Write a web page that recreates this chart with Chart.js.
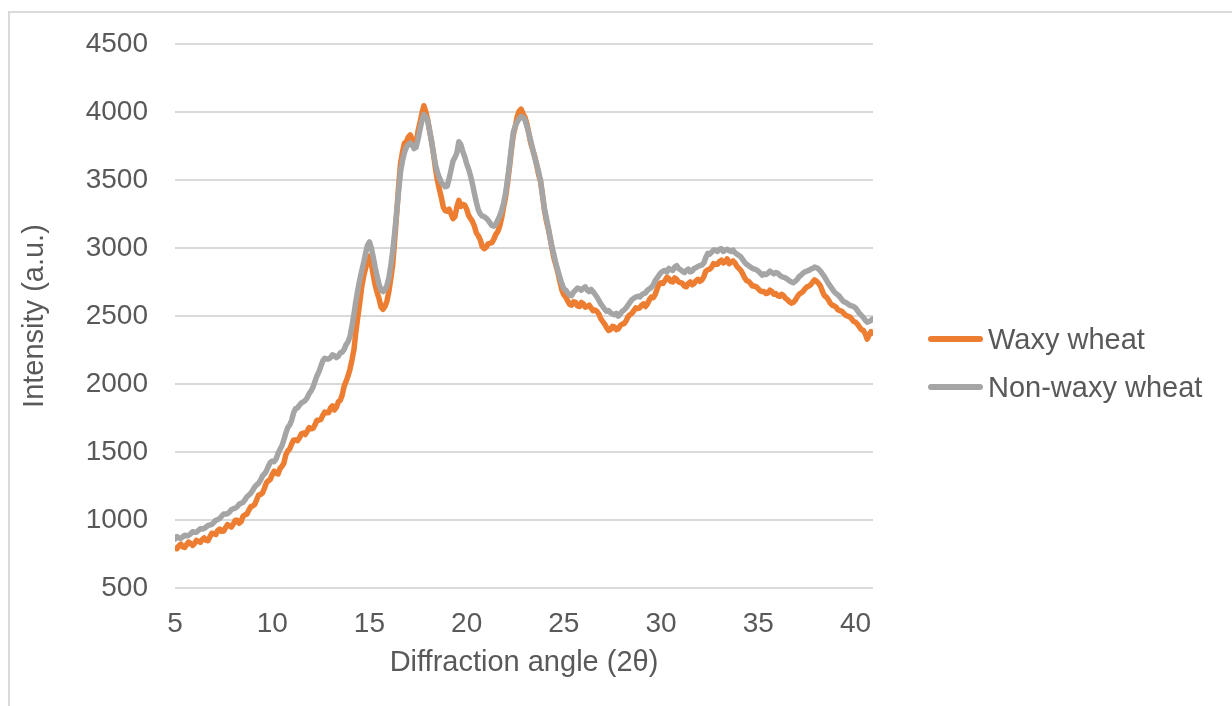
<!DOCTYPE html>
<html>
<head>
<meta charset="utf-8">
<script src="https://cdn.jsdelivr.net/npm/chart.js@4.4.1/dist/chart.umd.min.js"></script>
<style>
  html, body { margin: 0; padding: 0; background: #ffffff; overflow: hidden; }
  #frame { position: absolute; left: 8px; top: 11px; width: 1400px; height: 900px;
           border-left: 2px solid #d9d9d9; border-top: 2px solid #d9d9d9; }
  #wrap { position: absolute; left: 0; top: 0; width: 1232px; height: 706px; }
</style>
</head>
<body>
<div id="frame"></div>
<div id="wrap"><canvas id="xrd" width="1232" height="706"></canvas></div>
<script>
// Diffraction angle (2θ), degrees
const angles = [
  5.0, 5.1, 5.2, 5.3, 5.4, 5.5, 5.6, 5.7, 5.8, 5.9,
  6.0, 6.1, 6.2, 6.3, 6.4, 6.5, 6.6, 6.7, 6.8, 6.9,
  7.0, 7.1, 7.2, 7.3, 7.4, 7.5, 7.6, 7.7, 7.8, 7.9,
  8.0, 8.1, 8.2, 8.3, 8.4, 8.5, 8.6, 8.7, 8.8, 8.9,
  9.0, 9.1, 9.2, 9.3, 9.4, 9.5, 9.6, 9.7, 9.8, 9.9,
  10.0, 10.1, 10.2, 10.3, 10.4, 10.5, 10.6, 10.7, 10.8, 10.9,
  11.0, 11.1, 11.2, 11.3, 11.4, 11.5, 11.6, 11.7, 11.8, 11.9,
  12.0, 12.1, 12.2, 12.3, 12.4, 12.5, 12.6, 12.7, 12.8, 12.9,
  13.0, 13.1, 13.2, 13.3, 13.4, 13.5, 13.6, 13.7, 13.8, 13.9,
  14.0, 14.1, 14.2, 14.3, 14.4, 14.5, 14.6, 14.7, 14.8, 14.9,
  15.0, 15.1, 15.2, 15.3, 15.4, 15.5, 15.6, 15.7, 15.8, 15.9,
  16.0, 16.1, 16.2, 16.3, 16.4, 16.5, 16.6, 16.7, 16.8, 16.9,
  17.0, 17.1, 17.2, 17.3, 17.4, 17.5, 17.6, 17.7, 17.8, 17.9,
  18.0, 18.1, 18.2, 18.3, 18.4, 18.5, 18.6, 18.7, 18.8, 18.9,
  19.0, 19.1, 19.2, 19.3, 19.4, 19.5, 19.6, 19.7, 19.8, 19.9,
  20.0, 20.1, 20.2, 20.3, 20.4, 20.5, 20.6, 20.7, 20.8, 20.9,
  21.0, 21.1, 21.2, 21.3, 21.4, 21.5, 21.6, 21.7, 21.8, 21.9,
  22.0, 22.1, 22.2, 22.3, 22.4, 22.5, 22.6, 22.7, 22.8, 22.9,
  23.0, 23.1, 23.2, 23.3, 23.4, 23.5, 23.6, 23.7, 23.8, 23.9,
  24.0, 24.1, 24.2, 24.3, 24.4, 24.5, 24.6, 24.7, 24.8, 24.9,
  25.0, 25.1, 25.2, 25.3, 25.4, 25.5, 25.6, 25.7, 25.8, 25.9,
  26.0, 26.1, 26.2, 26.3, 26.4, 26.5, 26.6, 26.7, 26.8, 26.9,
  27.0, 27.1, 27.2, 27.3, 27.4, 27.5, 27.6, 27.7, 27.8, 27.9,
  28.0, 28.1, 28.2, 28.3, 28.4, 28.5, 28.6, 28.7, 28.8, 28.9,
  29.0, 29.1, 29.2, 29.3, 29.4, 29.5, 29.6, 29.7, 29.8, 29.9,
  30.0, 30.1, 30.2, 30.3, 30.4, 30.5, 30.6, 30.7, 30.8, 30.9,
  31.0, 31.1, 31.2, 31.3, 31.4, 31.5, 31.6, 31.7, 31.8, 31.9,
  32.0, 32.1, 32.2, 32.3, 32.4, 32.5, 32.6, 32.7, 32.8, 32.9,
  33.0, 33.1, 33.2, 33.3, 33.4, 33.5, 33.6, 33.7, 33.8, 33.9,
  34.0, 34.1, 34.2, 34.3, 34.4, 34.5, 34.6, 34.7, 34.8, 34.9,
  35.0, 35.1, 35.2, 35.3, 35.4, 35.5, 35.6, 35.7, 35.8, 35.9,
  36.0, 36.1, 36.2, 36.3, 36.4, 36.5, 36.6, 36.7, 36.8, 36.9,
  37.0, 37.1, 37.2, 37.3, 37.4, 37.5, 37.6, 37.7, 37.8, 37.9,
  38.0, 38.1, 38.2, 38.3, 38.4, 38.5, 38.6, 38.7, 38.8, 38.9,
  39.0, 39.1, 39.2, 39.3, 39.4, 39.5, 39.6, 39.7, 39.8, 39.9,
  40.0, 40.1, 40.2, 40.3, 40.4, 40.5, 40.6, 40.7, 40.8, 40.9
];

// Intensity (a.u.), waxy wheat starch
const waxy = [
  795, 790, 812, 825, 805, 800, 822, 840, 830, 815,
  828, 852, 845, 838, 858, 870, 852, 850, 880, 905,
  902, 895, 925, 935, 918, 920, 945, 968, 958, 950,
  972, 1000, 1000, 978, 990, 1030, 1040, 1045, 1075, 1100,
  1105, 1115, 1150, 1185, 1190, 1200, 1235, 1275, 1290, 1300,
  1335, 1360, 1345, 1340, 1380, 1395, 1420, 1480, 1510, 1525,
  1560, 1590, 1590, 1585, 1605, 1635, 1640, 1630, 1655, 1680,
  1672, 1675, 1700, 1735, 1735, 1740, 1770, 1795, 1790, 1790,
  1825, 1840, 1810, 1830, 1870, 1880, 1920, 1985, 2020, 2060,
  2110, 2175, 2250, 2380, 2490, 2595, 2710, 2790, 2850, 2910,
  2940, 2880, 2800, 2725, 2670, 2625, 2565, 2550, 2570, 2610,
  2680, 2775, 2880, 3060, 3250, 3450, 3620, 3705, 3770, 3780,
  3815, 3830, 3800, 3745, 3760, 3860, 3920, 3990, 4045, 4000,
  3940, 3855, 3780, 3690, 3580, 3495, 3430, 3370, 3300, 3275,
  3270, 3285, 3250, 3215, 3230, 3305, 3350, 3305, 3320, 3315,
  3285, 3240, 3215, 3195, 3160, 3110, 3090, 3060, 3010, 2995,
  3005, 3030, 3035, 3040, 3065, 3100, 3120, 3160, 3220, 3300,
  3370, 3475, 3590, 3720, 3830, 3890, 3965, 4005, 4020, 3985,
  3960, 3910, 3840, 3770, 3720, 3675, 3610, 3540, 3490, 3390,
  3280, 3200, 3140, 3070, 2990, 2920, 2870, 2815, 2750, 2690,
  2655, 2640, 2610, 2585, 2580, 2605, 2600, 2575, 2570, 2600,
  2590, 2565, 2570, 2580, 2560, 2540, 2545, 2535, 2515, 2480,
  2460, 2440, 2415, 2395, 2400, 2425, 2420, 2400, 2405, 2430,
  2440, 2445, 2465, 2495, 2510, 2520, 2540, 2560, 2555, 2560,
  2580, 2590, 2570, 2590, 2620, 2640, 2635, 2660, 2700, 2735,
  2745, 2740, 2760, 2785, 2775, 2755, 2750, 2780, 2770, 2750,
  2745, 2740, 2720, 2715, 2740, 2750, 2730, 2740, 2760, 2770,
  2755, 2765, 2790, 2830, 2840, 2845, 2860, 2885, 2880, 2880,
  2900, 2910, 2890, 2900, 2920, 2885, 2895, 2905, 2890, 2865,
  2850, 2835, 2810, 2780, 2760, 2755, 2740, 2720, 2720, 2715,
  2700, 2685, 2680, 2680, 2665, 2670, 2690, 2680, 2660, 2665,
  2650, 2645, 2660, 2650, 2630, 2620, 2605, 2595, 2600, 2615,
  2640, 2660, 2670, 2680, 2700, 2715, 2720, 2730, 2750, 2765,
  2755, 2740, 2720, 2680, 2650, 2640, 2620, 2595, 2580, 2575,
  2565, 2545, 2540, 2535, 2520, 2505, 2500, 2495, 2480, 2460,
  2455, 2440, 2420, 2400, 2395, 2370, 2330, 2360, 2385, 2375
];

// Intensity (a.u.), non-waxy wheat starch
const nonWaxy = [
  862, 880, 870, 868, 878, 890, 885, 888, 900, 915,
  912, 912, 925, 938, 935, 940, 950, 962, 965, 970,
  985, 1000, 1005, 1012, 1030, 1045, 1045, 1048, 1060, 1078,
  1085, 1088, 1100, 1118, 1125, 1132, 1150, 1172, 1185, 1198,
  1220, 1245, 1260, 1272, 1295, 1325, 1340, 1362, 1395, 1425,
  1435, 1430, 1450, 1490, 1520, 1548, 1590, 1640, 1680, 1700,
  1735, 1790, 1820, 1825, 1845, 1862, 1870, 1880, 1900, 1930,
  1950, 1978, 2020, 2060, 2090, 2130, 2170, 2190, 2185, 2185,
  2195, 2215, 2210, 2195, 2205, 2230, 2235, 2255, 2290, 2310,
  2350, 2425, 2510, 2605, 2690, 2765, 2830, 2890, 2960, 3020,
  3045, 3000, 2930, 2855, 2790, 2730, 2690, 2680, 2695, 2725,
  2780, 2870, 2980, 3115, 3260, 3415, 3560, 3640, 3700, 3740,
  3760, 3770, 3755, 3730, 3740, 3800, 3870, 3935, 3980, 3965,
  3930, 3860, 3780, 3690, 3610, 3555, 3515, 3480, 3465, 3450,
  3455, 3510, 3575, 3640, 3665, 3700, 3780, 3760, 3710, 3670,
  3620, 3580, 3530, 3470, 3400, 3335, 3280, 3250, 3235, 3230,
  3220, 3205, 3185, 3165, 3160, 3175, 3205, 3235, 3275, 3330,
  3400, 3500, 3610, 3735, 3850, 3895, 3925, 3950, 3965, 3960,
  3940, 3895, 3840, 3785, 3725, 3665, 3615, 3560, 3495, 3390,
  3290, 3220, 3150, 3070, 3000, 2945, 2880, 2830, 2780, 2735,
  2700, 2690, 2670, 2655, 2650, 2675, 2690, 2705, 2700, 2690,
  2705, 2715, 2690, 2680, 2695, 2680, 2660, 2640, 2615, 2590,
  2570, 2550, 2535, 2540, 2525, 2515, 2510, 2520, 2500, 2515,
  2535, 2545, 2560, 2580, 2600, 2620, 2630, 2640, 2645, 2640,
  2655, 2665, 2670, 2690, 2700, 2710, 2730, 2760, 2780, 2800,
  2820, 2830, 2835, 2825, 2850, 2840, 2835, 2860, 2870, 2850,
  2840, 2830, 2820, 2835, 2845, 2825, 2830, 2850, 2855, 2865,
  2870, 2875, 2890, 2930, 2960, 2955, 2970, 2985, 2985, 2975,
  2990, 2995, 2975, 2985, 2990, 2980, 2975, 2985, 2965, 2955,
  2945, 2935, 2915, 2895, 2880, 2870, 2860, 2850, 2845, 2840,
  2830, 2815, 2800, 2810, 2805, 2815, 2830, 2820, 2810, 2820,
  2815, 2800, 2790, 2785, 2780, 2770, 2760, 2750, 2745, 2755,
  2770, 2790, 2800, 2815, 2825, 2830, 2835, 2845, 2850, 2860,
  2855, 2845, 2830, 2810, 2790, 2765, 2740, 2720, 2700, 2680,
  2665, 2655, 2640, 2620, 2605, 2600, 2590, 2580, 2575, 2570,
  2560, 2540, 2520, 2505, 2490, 2470, 2455, 2460, 2470, 2480
];

const seriesNames = ['Waxy wheat', 'Non-waxy wheat'];
const xTickValues = [5, 10, 15, 20, 25, 30, 35, 40];
const yTickValues = [500, 1000, 1500, 2000, 2500, 3000, 3500, 4000, 4500];

const FONT = "'Liberation Sans', Arial, sans-serif";
const TEXT = '#595959';

const toPoints = values => angles.map((a, i) => ({ x: a, y: values[i] }));

// Legend drawn as short line samples beside the plot
const lineLegend = {
  id: 'lineLegend',
  afterDraw(chart, args, opts) {
    const ctx = chart.ctx;
    ctx.save();
    chart.data.datasets.forEach((ds, i) => {
      const y = opts.top + i * opts.spacing;
      ctx.strokeStyle = ds.borderColor;
      ctx.lineWidth = opts.lineWidth;
      ctx.lineCap = 'round';
      ctx.beginPath();
      ctx.moveTo(opts.x0, y);
      ctx.lineTo(opts.x1, y);
      ctx.stroke();
      ctx.fillStyle = TEXT;
      ctx.font = opts.font;
      ctx.textAlign = 'left';
      ctx.textBaseline = 'middle';
      ctx.fillText(ds.label, opts.textX, y + 1.5);
    });
    ctx.restore();
  }
};

new Chart(document.getElementById('xrd'), {
  type: 'line',
  data: {
    datasets: [
      { label: seriesNames[0], data: toPoints(waxy), borderColor: '#ED7D31',
        borderWidth: 5.5, order: 1 },
      { label: seriesNames[1], data: toPoints(nonWaxy), borderColor: '#A5A5A5',
        borderWidth: 5.5, order: 0 }
    ]
  },
  options: {
    responsive: false,
    animation: false,
    devicePixelRatio: 1,
    layout: { padding: { left: 0, top: 41.7, right: 359, bottom: 0 } },
    elements: {
      point: { radius: 0, hoverRadius: 0 },
      line: { tension: 0, borderJoinStyle: 'round', borderCapStyle: 'round', fill: false }
    },
    plugins: {
      legend: { display: false },
      tooltip: { enabled: false },
      lineLegend: { x0: 931, x1: 980, textX: 988, top: 339, spacing: 48,
                    lineWidth: 6, font: '29px ' + FONT }
    },
    scales: {
      x: {
        type: 'linear',
        min: 5,
        max: 40.9,
        grid: { display: false, drawTicks: false },
        border: { display: false },
        afterBuildTicks: s => { s.ticks = xTickValues.map(v => ({ value: v })); },
        afterFit: s => { s.height = 117.7; },
        ticks: { padding: 19, color: TEXT, maxRotation: 0, autoSkip: false,
                 callback: v => String(v), font: { family: FONT, size: 28 } },
        title: { display: true, text: 'Diffraction angle (2θ)', color: TEXT,
                 font: { family: FONT, size: 29 }, padding: { top: 0, bottom: 25.6 } }
      },
      y: {
        type: 'linear',
        min: 500,
        max: 4500,
        grid: { color: '#d9d9d9', lineWidth: 2, drawTicks: false },
        border: { display: false },
        afterBuildTicks: s => { s.ticks = yTickValues.map(v => ({ value: v })); },
        afterFit: s => { s.width = 175; },
        ticks: { padding: 27, color: TEXT, callback: v => String(v),
                 font: { family: FONT, size: 28 } },
        title: { display: true, text: 'Intensity (a.u.)', color: TEXT,
                 font: { family: FONT, size: 29 }, padding: { top: 17.6, bottom: 0 } }
      }
    }
  },
  plugins: [lineLegend]
});
</script>
</body>
</html>
